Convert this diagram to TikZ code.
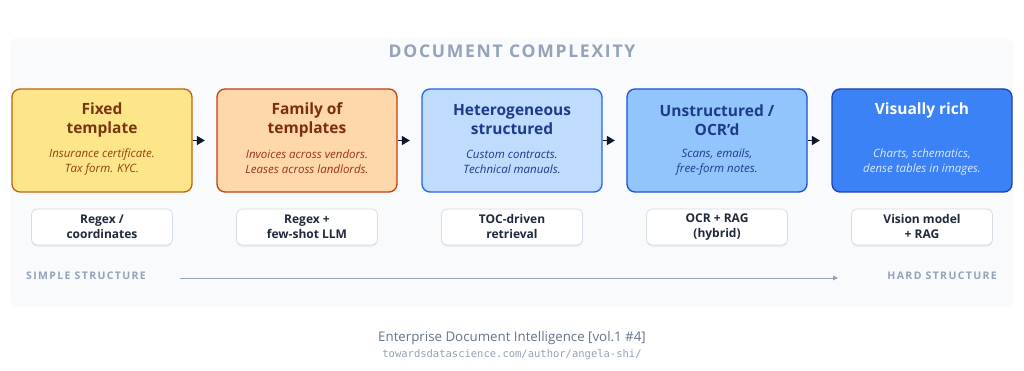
\documentclass[tikz,border=0pt]{standalone}
\usepackage{fontspec}
\setmainfont{Open Sans}
\newfontfamily\urlfont{DejaVu Sans Mono}
\usetikzlibrary{shadows,arrows.meta}
\definecolor{panelbg}{HTML}{F8FAFC}
\definecolor{titlegray}{HTML}{94A3B8}
\definecolor{yfill}{HTML}{FDE68A}\definecolor{ydraw}{HTML}{C2620C}\definecolor{ytext}{HTML}{78350F}\definecolor{ysub}{HTML}{92400E}
\definecolor{ofill}{HTML}{FED7AA}\definecolor{odraw}{HTML}{C2410C}\definecolor{otext}{HTML}{7C2D12}\definecolor{osub}{HTML}{9A3412}
\definecolor{b2fill}{HTML}{BFDBFE}\definecolor{b2draw}{HTML}{2563EB}\definecolor{btext}{HTML}{1E3A8A}\definecolor{bsub}{HTML}{1E3A8A}
\definecolor{b3fill}{HTML}{93C5FD}\definecolor{b3draw}{HTML}{1D4ED8}
\definecolor{b5fill}{HTML}{3B82F6}\definecolor{b5draw}{HTML}{1E40AF}\definecolor{b5sub}{HTML}{DBEAFE}
\definecolor{methodtext}{HTML}{1E293B}\definecolor{methoddraw}{HTML}{D5DCE6}
\definecolor{arrowdark}{HTML}{0F172A}
\definecolor{footgray}{HTML}{64748B}
\begin{document}
\begin{tikzpicture}[x=1pt,y=-1pt,
  stage/.style={rounded corners=8pt, line width=1.3pt, minimum width=180pt, minimum height=103pt, inner sep=0pt},
  stitle/.style={align=center, font=\fontsize{15.5}{19}\selectfont\bfseries, inner sep=0pt},
  ssub/.style={align=center, font=\fontsize{11.5}{15}\selectfont\itshape, inner sep=0pt},
  method/.style={rounded corners=6pt, fill=white, draw=methoddraw, line width=0.7pt, minimum width=141pt, minimum height=36pt, inner sep=0pt, align=center, text=methodtext, font=\fontsize{12}{15}\selectfont\bfseries, drop shadow={shadow xshift=0pt, shadow yshift=-1.5pt, opacity=0.12, fill=black!60}},
  flow/.style={draw=arrowdark, line width=1.6pt, -{Triangle[length=8pt,width=9pt]}, shorten >=11.5pt},
  axis/.style={draw=titlegray, line width=0.8pt, -{Triangle[length=5pt,width=4.5pt]}},
  axlabel/.style={inner sep=0pt, text=titlegray, font=\fontsize{10.5}{12}\selectfont\bfseries\addfontfeature{LetterSpace=13}}
]
\useasboundingbox (0,0) rectangle (1024,371);
\fill[white] (0,0) rectangle (1024,371);
\fill[panelbg, rounded corners=8pt] (10,38) rectangle (1013,307);
\node[inner sep=0pt, text=titlegray, font=\fontsize{17.5}{20}\selectfont\bfseries\addfontfeature{LetterSpace=10}] (title) at (512,51) {DOCUMENT COMPLEXITY};

\node[stage, fill=yfill, draw=ydraw] (b1) at (102,140.5) {};
\node[stage, fill=ofill, draw=odraw] (b2) at (307,140.5) {};
\node[stage, fill=b2fill, draw=b2draw] (b3) at (512,140.5) {};
\node[stage, fill=b3fill, draw=b3draw] (b4) at (717,140.5) {};
\node[stage, fill=b5fill, draw=b5draw] (b5) at (922,140.5) {};

\node[stitle, text=ytext] (t1) at (102,120) {Fixed\\template};
\node[stitle, text=otext] (t2) at (307,120) {Family of\\templates};
\node[stitle, text=btext] (t3) at (512,120) {Heterogeneous\\structured};
\node[stitle, text=btext] (t4) at (717,120) {Unstructured /\\OCR'd};
\node[stitle, text=white] (t5) at (922,110.5) {Visually rich};

\node[ssub, text=ysub] (s1) at (102,162) {Insurance certificate.\\Tax form. KYC.};
\node[ssub, text=osub] (s2) at (307,162) {Invoices across vendors.\\Leases across landlords.};
\node[ssub, text=bsub] (s3) at (512,162) {Custom contracts.\\Technical manuals.};
\node[ssub, text=bsub] (s4) at (717,162) {Scans, emails,\\free-form notes.};
\node[ssub, text=b5sub] (s5) at (922,162) {Charts, schematics,\\dense tables in images.};

\draw[flow] (b1) -- (b2);
\draw[flow] (b2) -- (b3);
\draw[flow] (b3) -- (b4);
\draw[flow] (b4) -- (b5);

\node[method] (m1) at (102,227) {Regex /\\coordinates};
\node[method] (m2) at (307,227) {Regex +\\few-shot LLM};
\node[method] (m3) at (512,227) {TOC-driven\\retrieval};
\node[method] (m4) at (717,227) {OCR + RAG\\(hybrid)};
\node[method] (m5) at (922,227) {Vision model\\+ RAG};

\coordinate (axL) at (180,278);
\coordinate (axR) at (838,278);
\draw[axis] (axL) -- (axR);
\node[axlabel, anchor=west] (simple) at (26,276) {SIMPLE STRUCTURE};
\node[axlabel, anchor=east] (hard) at (997,276) {HARD STRUCTURE};

\node[inner sep=0pt, text=footgray, font=\fontsize{13.3}{15}\selectfont] (foot) at (512,338) {Enterprise Document Intelligence [vol.1 \#4]};
\node[inner sep=0pt, text=titlegray, font=\fontsize{10.5}{12}\selectfont\urlfont] (url) at (512,355) {towardsdatascience.com/author/angela-shi/};
\end{tikzpicture}
\end{document}
